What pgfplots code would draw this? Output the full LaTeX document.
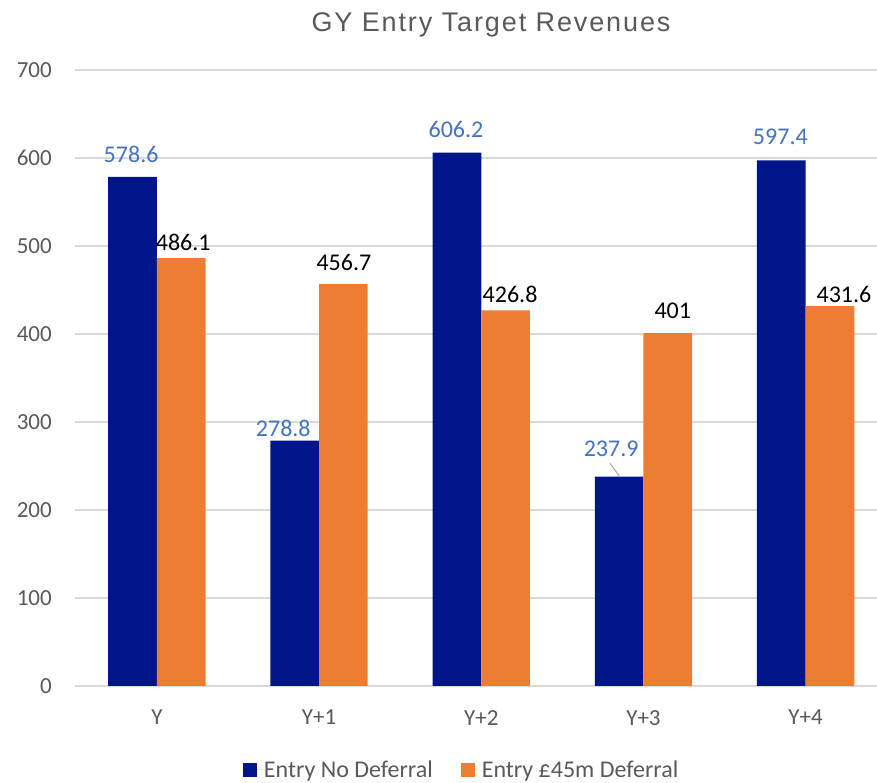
\documentclass[border=0pt]{standalone}
\usepackage{pgfplots}
\pgfplotsset{compat=1.18}
\usepackage{pgfplotstable}
\usepackage{fontspec}
\setmainfont{Carlito}
\newfontfamily\titlefont{Liberation Sans}[LetterSpace=7]
\definecolor{navy}{RGB}{0,21,137}
\definecolor{orng}{RGB}{237,125,49}
\definecolor{lblblue}{RGB}{68,114,196}
\definecolor{txtgray}{RGB}{89,89,89}
\definecolor{gridgray}{RGB}{217,217,217}

% dx already includes the bar shift (24.3bp) since labels are anchored at category centre
\pgfplotstableread{
x y dx dy
0 578.6 -25.8 22.5
1 278.8 -35.8 12
2 606.2 -25.3 23
3 237.9 -32.3 28
4 597.4 -25.3 23.5
}\blueT
\pgfplotstableread{
x y dx dy
0 486.1 26.3 15.5
1 456.7 24.8 21.5
2 426.8 28.8 16.5
3 401 29.3 22.5
4 431.6 38.3 11.5
}\orangeT

\begin{document}
\begin{tikzpicture}[x=1bp,y=1bp]
\path[use as bounding box] (0,0) rectangle (877,783);
\node[anchor=base, text=txtgray, font=\titlefont\fontsize{27bp}{31bp}\selectfont] at (491,751) {GY Entry Target Revenues};
\begin{axis}[
  at={(75bp,97bp)}, anchor=south west,
  width=802bp, height=616bp, scale only axis,
  xmin=-0.505, xmax=4.44, ymin=0, ymax=700,
  ytick={0,100,...,700},
  xtick={0,1,2,3,4}, xticklabels={Y,Y+1,Y+2,Y+3,Y+4},
  axis line style={draw=none},
  major tick length=0pt,
  ymajorgrids, grid style={gridgray, line width=1.3bp},
  /pgf/number format/assume math mode=true,
  tick label style={text=txtgray, font=\fontsize{23bp}{27bp}\selectfont, inner sep=0pt},
  yticklabel style={anchor=east, xshift=-23bp},
  xticklabel style={anchor=north, yshift=-24bp},
  clip=false,
  legend columns=2,
  legend style={draw=none, fill=none, at={(0.482,-0.136)}, anchor=center,
    font=\fontsize{24bp}{28bp}\selectfont, text=txtgray,
    /tikz/every even column/.append style={column sep=26bp}},
  legend image code/.code={\path (0bp,0bp) -- (19bp,0bp); \fill[#1] (0bp,-7bp) rectangle (14bp,7bp);},
]
\addplot[ybar, bar width=0.3, bar shift=-0.15, fill=navy, draw=none,
  visualization depends on={\thisrow{dx} \as \dx},
  visualization depends on={\thisrow{dy} \as \dy},
  nodes near coords,
  nodes near coords style={anchor=center, xshift=\dx bp, yshift=\dy bp, text=lblblue, font=\fontsize{24bp}{28bp}\selectfont, inner sep=0pt}]
  table[x=x, y=y] {\blueT};
\addlegendentry{Entry No Deferral}
\addplot[ybar, bar width=0.3, bar shift=0.15, fill=orng, draw=none,
  visualization depends on={\thisrow{dx} \as \dx},
  visualization depends on={\thisrow{dy} \as \dy},
  nodes near coords,
  nodes near coords style={anchor=center, xshift=\dx bp, yshift=\dy bp, text=black, font=\fontsize{24bp}{28bp}\selectfont, inner sep=0pt}]
  table[x=x, y=y] {\orangeT};
\addlegendentry{Entry £45m Deferral}
\draw[gray!70, line width=1bp] (axis cs:2.794,253.1) -- (axis cs:2.851,238.6);
\end{axis}
\end{tikzpicture}
\end{document}
